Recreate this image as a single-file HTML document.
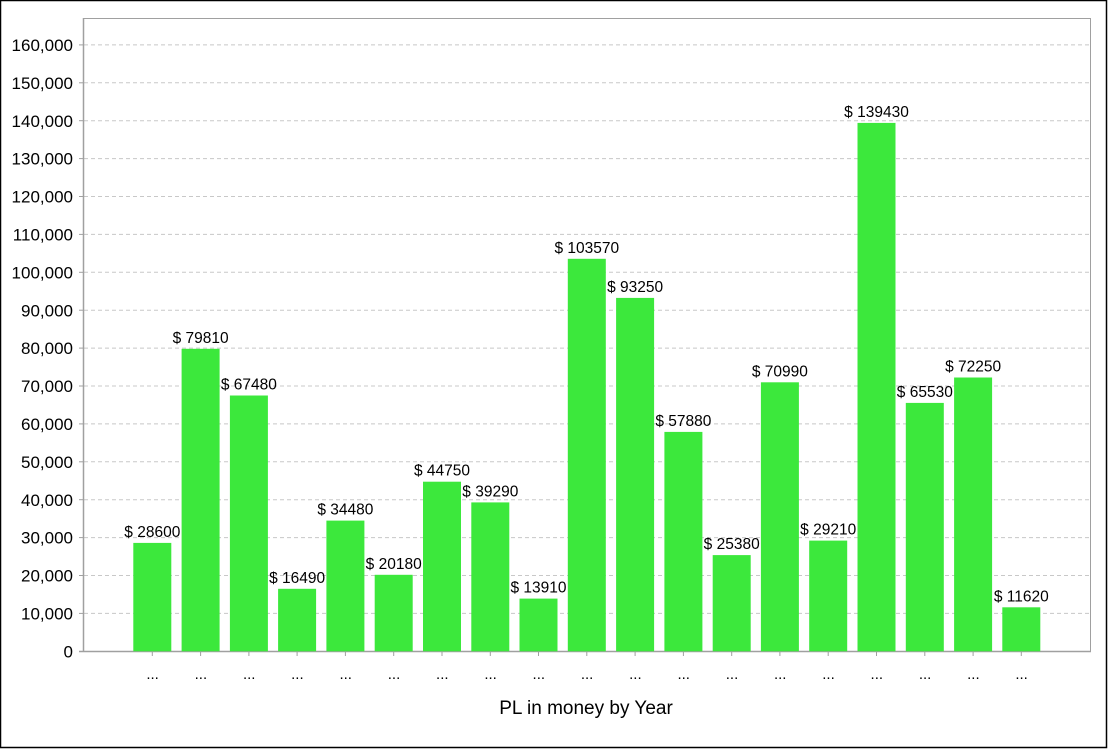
<!DOCTYPE html>
<html>
<head>
<meta charset="utf-8">
<style>
html,body{margin:0;padding:0;background:#fff;}
svg{display:block;}
text{font-family:"Liberation Sans",Arial,sans-serif;fill:#000;}
</style>
</head>
<body>
<svg width="1108" height="749" viewBox="0 0 1108 749" xmlns="http://www.w3.org/2000/svg">
<rect x="0" y="0" width="1108" height="749" fill="#fff"/>
<rect x="0.5" y="0.5" width="1106" height="747" fill="none" stroke="#000" stroke-width="1.5"/>

<!-- gridlines -->
<g stroke="#c8c8c8" stroke-width="1" stroke-dasharray="4,3">
<line x1="84" y1="613.4" x2="1090" y2="613.4"/>
<line x1="84" y1="575.5" x2="1090" y2="575.5"/>
<line x1="84" y1="537.6" x2="1090" y2="537.6"/>
<line x1="84" y1="499.7" x2="1090" y2="499.7"/>
<line x1="84" y1="461.8" x2="1090" y2="461.8"/>
<line x1="84" y1="423.9" x2="1090" y2="423.9"/>
<line x1="84" y1="386.0" x2="1090" y2="386.0"/>
<line x1="84" y1="348.1" x2="1090" y2="348.1"/>
<line x1="84" y1="310.2" x2="1090" y2="310.2"/>
<line x1="84" y1="272.3" x2="1090" y2="272.3"/>
<line x1="84" y1="234.4" x2="1090" y2="234.4"/>
<line x1="84" y1="196.5" x2="1090" y2="196.5"/>
<line x1="84" y1="158.6" x2="1090" y2="158.6"/>
<line x1="84" y1="120.7" x2="1090" y2="120.7"/>
<line x1="84" y1="82.8" x2="1090" y2="82.8"/>
<line x1="84" y1="44.9" x2="1090" y2="44.9"/>
</g>

<!-- frame -->
<rect x="83.5" y="18.5" width="1007" height="633" fill="none" stroke="#a0a0a0" stroke-width="1"/>
<line x1="83.5" y1="18" x2="83.5" y2="652" stroke="#a0a0a0" stroke-width="1.5"/>
<line x1="79" y1="651.5" x2="1091" y2="651.5" stroke="#a0a0a0" stroke-width="1.5"/>

<!-- left ticks -->
<g stroke="#a0a0a0" stroke-width="1">
<line x1="79" y1="613.4" x2="83" y2="613.4"/>
<line x1="79" y1="575.5" x2="83" y2="575.5"/>
<line x1="79" y1="537.6" x2="83" y2="537.6"/>
<line x1="79" y1="499.7" x2="83" y2="499.7"/>
<line x1="79" y1="461.8" x2="83" y2="461.8"/>
<line x1="79" y1="423.9" x2="83" y2="423.9"/>
<line x1="79" y1="386.0" x2="83" y2="386.0"/>
<line x1="79" y1="348.1" x2="83" y2="348.1"/>
<line x1="79" y1="310.2" x2="83" y2="310.2"/>
<line x1="79" y1="272.3" x2="83" y2="272.3"/>
<line x1="79" y1="234.4" x2="83" y2="234.4"/>
<line x1="79" y1="196.5" x2="83" y2="196.5"/>
<line x1="79" y1="158.6" x2="83" y2="158.6"/>
<line x1="79" y1="120.7" x2="83" y2="120.7"/>
<line x1="79" y1="82.8" x2="83" y2="82.8"/>
<line x1="79" y1="44.9" x2="83" y2="44.9"/>
</g>

<!-- y labels -->
<g font-size="17" text-anchor="end">
<text x="73" y="657.5">0</text>
<text x="73" y="619.5">10,000</text>
<text x="73" y="581.6">20,000</text>
<text x="73" y="543.7">30,000</text>
<text x="73" y="505.8">40,000</text>
<text x="73" y="467.9">50,000</text>
<text x="73" y="430.0">60,000</text>
<text x="73" y="392.1">70,000</text>
<text x="73" y="354.2">80,000</text>
<text x="73" y="316.3">90,000</text>
<text x="73" y="278.4">100,000</text>
<text x="73" y="240.5">110,000</text>
<text x="73" y="202.6">120,000</text>
<text x="73" y="164.7">130,000</text>
<text x="73" y="126.8">140,000</text>
<text x="73" y="88.9">150,000</text>
<text x="73" y="51.0">160,000</text>
</g>

<!-- bars -->
<g fill="#3ce83c">
<rect x="133.3" y="542.9" width="38" height="108.4"/>
<rect x="181.6" y="348.8" width="38" height="302.5"/>
<rect x="229.9" y="395.5" width="38" height="255.8"/>
<rect x="278.1" y="588.8" width="38" height="62.5"/>
<rect x="326.4" y="520.6" width="38" height="130.7"/>
<rect x="374.7" y="574.8" width="38" height="76.5"/>
<rect x="423.0" y="481.7" width="38" height="169.6"/>
<rect x="471.3" y="502.4" width="38" height="148.9"/>
<rect x="519.5" y="598.6" width="38" height="52.7"/>
<rect x="567.8" y="258.8" width="38" height="392.5"/>
<rect x="616.1" y="297.9" width="38" height="353.4"/>
<rect x="664.4" y="431.9" width="38" height="219.4"/>
<rect x="712.7" y="555.1" width="38" height="96.2"/>
<rect x="760.9" y="382.3" width="38" height="269.0"/>
<rect x="809.2" y="540.6" width="38" height="110.7"/>
<rect x="857.5" y="122.9" width="38" height="528.4"/>
<rect x="905.8" y="402.9" width="38" height="248.4"/>
<rect x="954.1" y="377.5" width="38" height="273.8"/>
<rect x="1002.3" y="607.3" width="38" height="44.0"/>
</g>

<!-- value labels -->
<g font-size="15.5" text-anchor="middle">
<text x="152.3" y="536.9">$ 28600</text>
<text x="200.6" y="342.8">$ 79810</text>
<text x="248.9" y="389.5">$ 67480</text>
<text x="297.1" y="582.8">$ 16490</text>
<text x="345.4" y="514.6">$ 34480</text>
<text x="393.7" y="568.8">$ 20180</text>
<text x="442.0" y="475.7">$ 44750</text>
<text x="490.3" y="496.4">$ 39290</text>
<text x="538.5" y="592.6">$ 13910</text>
<text x="586.8" y="252.8">$ 103570</text>
<text x="635.1" y="291.9">$ 93250</text>
<text x="683.4" y="425.9">$ 57880</text>
<text x="731.7" y="549.1">$ 25380</text>
<text x="779.9" y="376.3">$ 70990</text>
<text x="828.2" y="534.6">$ 29210</text>
<text x="876.5" y="116.9">$ 139430</text>
<text x="924.8" y="396.9">$ 65530</text>
<text x="973.1" y="371.5">$ 72250</text>
<text x="1021.3" y="601.3">$ 11620</text>
</g>

<!-- bottom ticks -->
<g stroke="#a0a0a0" stroke-width="1">
<line x1="152.3" y1="652" x2="152.3" y2="656"/>
<line x1="200.6" y1="652" x2="200.6" y2="656"/>
<line x1="248.9" y1="652" x2="248.9" y2="656"/>
<line x1="297.1" y1="652" x2="297.1" y2="656"/>
<line x1="345.4" y1="652" x2="345.4" y2="656"/>
<line x1="393.7" y1="652" x2="393.7" y2="656"/>
<line x1="442.0" y1="652" x2="442.0" y2="656"/>
<line x1="490.3" y1="652" x2="490.3" y2="656"/>
<line x1="538.5" y1="652" x2="538.5" y2="656"/>
<line x1="586.8" y1="652" x2="586.8" y2="656"/>
<line x1="635.1" y1="652" x2="635.1" y2="656"/>
<line x1="683.4" y1="652" x2="683.4" y2="656"/>
<line x1="731.7" y1="652" x2="731.7" y2="656"/>
<line x1="779.9" y1="652" x2="779.9" y2="656"/>
<line x1="828.2" y1="652" x2="828.2" y2="656"/>
<line x1="876.5" y1="652" x2="876.5" y2="656"/>
<line x1="924.8" y1="652" x2="924.8" y2="656"/>
<line x1="973.1" y1="652" x2="973.1" y2="656"/>
<line x1="1021.3" y1="652" x2="1021.3" y2="656"/>
</g>

<!-- x category labels -->
<g font-size="15" text-anchor="middle">
<text x="152.6" y="679">...</text>
<text x="200.9" y="679">...</text>
<text x="249.2" y="679">...</text>
<text x="297.4" y="679">...</text>
<text x="345.7" y="679">...</text>
<text x="394.0" y="679">...</text>
<text x="442.3" y="679">...</text>
<text x="490.6" y="679">...</text>
<text x="538.8" y="679">...</text>
<text x="587.1" y="679">...</text>
<text x="635.4" y="679">...</text>
<text x="683.7" y="679">...</text>
<text x="732.0" y="679">...</text>
<text x="780.2" y="679">...</text>
<text x="828.5" y="679">...</text>
<text x="876.8" y="679">...</text>
<text x="925.1" y="679">...</text>
<text x="973.4" y="679">...</text>
<text x="1021.6" y="679">...</text>
</g>

<text x="586" y="714" font-size="19" text-anchor="middle">PL in money by Year</text>
</svg>
</body>
</html>
